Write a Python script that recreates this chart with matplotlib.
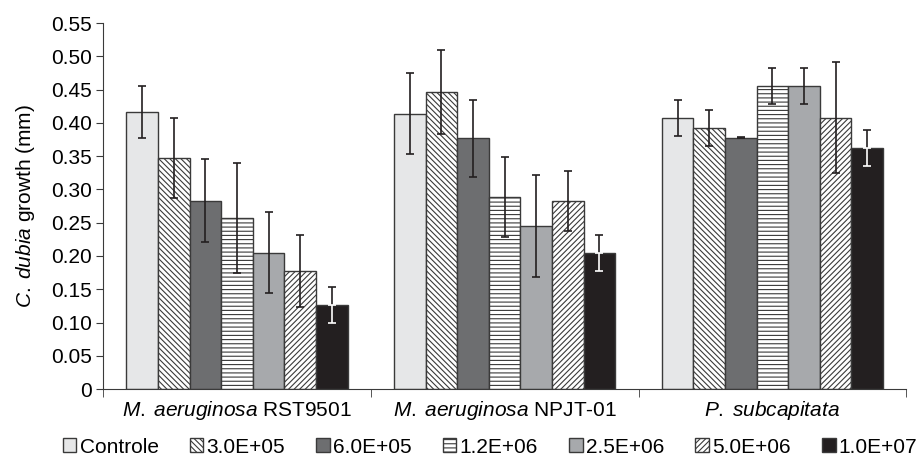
import numpy as np
import matplotlib.pyplot as plt

plt.rcParams['font.family'] = 'Liberation Sans'
plt.rcParams['mathtext.fontset'] = 'custom'
plt.rcParams['mathtext.rm'] = 'Liberation Sans'
plt.rcParams['mathtext.it'] = 'Liberation Sans:italic'
plt.rcParams['hatch.linewidth'] = 0.8

# Data
groups = [r'$\mathit{M.\;aeruginosa}$ RST9501',
          r'$\mathit{M.\;aeruginosa}$ NPJT-01',
          r'$\mathit{P.\;subcapitata}$']
series = ['Controle', '3.0E+05', '6.0E+05', '1.2E+06', '2.5E+06', '5.0E+06', '1.0E+07']
values = [
    [0.416, 0.414, 0.408],
    [0.347, 0.446, 0.393],
    [0.283, 0.377, 0.378],
    [0.257, 0.288, 0.455],
    [0.205, 0.245, 0.455],
    [0.177, 0.283, 0.408],
    [0.126, 0.204, 0.362],
]
errors = [
    [0.039, 0.061, 0.027],
    [0.060, 0.063, 0.027],
    [0.062, 0.058, 0.001],
    [0.082, 0.060, 0.027],
    [0.061, 0.077, 0.027],
    [0.054, 0.045, 0.084],
    [0.027, 0.027, 0.027],
]

facecolors = ['#e6e7e8', 'white', '#6d6e70', 'white', '#a7a9ac', 'white', '#231f20']
hatches = ['', '\\\\\\\\\\\\', '', '----', '', '//////', '']

fig = plt.figure(figsize=(9.23, 4.61), dpi=100)
ax = fig.add_axes([0.1116, 0.156, 0.982 - 0.1116, 0.794])

x = np.arange(len(groups))
width = 0.118
for i, name in enumerate(series):
    pos = x + (i - 3) * width
    ax.bar(pos, values[i], width, color=facecolors[i], edgecolor='#3a3a3a',
           hatch=hatches[i], linewidth=1.0, label=name, zorder=2)
    ax.errorbar(pos, values[i], yerr=errors[i], fmt='none', ecolor='#231f20',
                elinewidth=1.2, capsize=3, capthick=1.2, zorder=3)
    if i == len(series) - 1:
        # lower part of the error bar drawn white inside the black bar
        ax.errorbar(pos, values[i], yerr=[errors[i], [0] * len(groups)], fmt='none',
                    ecolor='white', elinewidth=1.2, capsize=3, capthick=1.2, zorder=4)

ax.set_xlim(-0.5, 2.5)
ax.set_ylim(0, 0.55)
ax.set_yticks(np.arange(0, 0.551, 0.05))
ax.set_yticklabels(['0'] + [f'{v:.2f}' for v in np.arange(0.05, 0.551, 0.05)], fontsize=15)
ax.set_xticks(x)
ax.set_xticklabels(groups, fontsize=15)
ax.tick_params(axis='x', which='major', length=0, pad=7)
ax.set_xticks([-0.5, 0.5, 1.5, 2.5], minor=True)
ax.tick_params(axis='x', which='minor', length=6, color='#3a3a3a')
ax.tick_params(axis='y', length=5, color='#3a3a3a', pad=3)
for s in ['top', 'right']:
    ax.spines[s].set_visible(False)
for s in ['left', 'bottom']:
    ax.spines[s].set_color('#3a3a3a')

ax.set_ylabel(r'$\mathit{C.\;dubia}$ growth (mm)', fontsize=15, labelpad=10)

fig.legend(loc='center', bbox_to_anchor=(0.531, 0.03), ncol=7, frameon=False,
           fontsize=15, handlelength=0.65, handleheight=0.65, handletextpad=0.15,
           columnspacing=1.5, borderpad=0.1)

plt.savefig('out.png', dpi=100)
